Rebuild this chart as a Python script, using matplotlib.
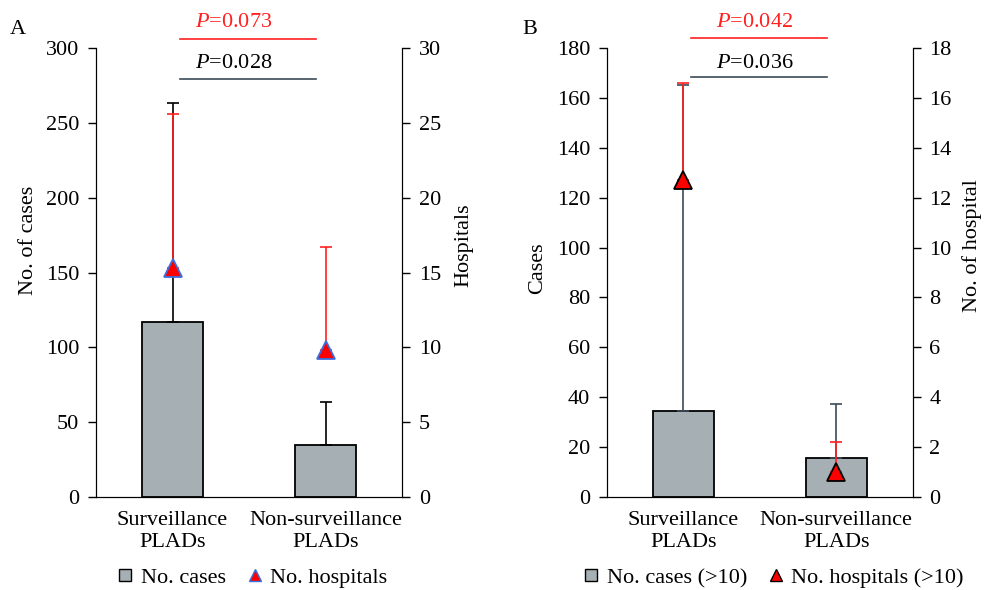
import matplotlib
matplotlib.use("Agg")
import matplotlib.pyplot as plt
from matplotlib.lines import Line2D
import numpy as np

plt.rcParams['font.family'] = ['Liberation Serif', 'DejaVu Serif']
plt.rcParams['mathtext.fontset'] = 'custom'
plt.rcParams['mathtext.it'] = 'Liberation Serif:italic'
plt.rcParams['mathtext.rm'] = 'Liberation Serif'

categories = ['Surveillance\nPLADs', 'Non-surveillance\nPLADs']

# panel A
cases_a = [117, 34.5]
cases_a_err = [146.5, 29]
hosp_a = [15.3, 9.8]
hosp_a_err = [10.3, 6.9]
p_a = ['0.073', '0.028']

# panel B (>10)
cases_b = [34.5, 15.8]
cases_b_err = [130.5, 21.6]
hosp_b = [12.7, 1.0]
hosp_b_err = [3.9, 1.2]
p_b = ['0.042', '0.036']

bar_col = '#A6AFB3'
red = '#FF2020'
slate = '#3B4C5A'

fig = plt.figure(figsize=(9.84, 5.9), dpi=100)


def panel(rect, cases, cases_err, hosp, hosp_err, ymax, ystep, hmax, hstep,
          ylab, hlab, tri_edge, err_col, pvals, p_ys, p_x, letter, letter_x,
          leg_labels, leg_x, ylab_pos, hlab_pos):
    ax = fig.add_axes(rect)
    x = np.arange(len(categories))
    ax.bar(x, cases, width=0.4, color=bar_col, edgecolor='black', linewidth=1.3, zorder=2)
    ax.errorbar(x, cases, yerr=[np.zeros(len(cases)), cases_err], fmt='none',
                ecolor=err_col, elinewidth=1.2, capsize=4, capthick=1.2, zorder=3)
    ax.set_xlim(-0.5, 1.5)
    ax.set_ylim(0, ymax)
    ax.set_yticks(np.arange(0, ymax + 1, ystep))
    ax.set_xticks(x)
    ax.set_xticklabels(categories)
    ax.tick_params(axis='x', length=0, pad=10, labelsize=16)
    ax.tick_params(axis='y', length=6, width=1, pad=6, labelsize=16)
    ax.spines['top'].set_visible(False)
    ax.set_ylabel(ylab, fontsize=16)
    ax.yaxis.set_label_coords(*ylab_pos)

    ax2 = ax.twinx()
    ax2.errorbar(x, hosp, yerr=[np.zeros(len(hosp)), hosp_err], fmt='none',
                 ecolor=red, elinewidth=1.2, capsize=4, capthick=1.2, zorder=3)
    ax2.plot(x, hosp, linestyle='none', marker='^', markersize=13,
             markerfacecolor='#FF0000', markeredgecolor=tri_edge, markeredgewidth=1.3, zorder=4)
    ax2.set_ylim(0, hmax)
    ax2.set_yticks(np.arange(0, hmax + 1, hstep))
    ax2.tick_params(axis='y', length=6, width=1, pad=6, labelsize=16)
    ax2.spines['top'].set_visible(False)
    ax2.set_ylabel(hlab, fontsize=16)
    ax2.yaxis.set_label_coords(*hlab_pos)

    # p-value brackets above the plot
    cols = [red, 'black']
    lcols = [red, slate]
    for pv, (ly, ty), c, lc in zip(pvals, p_ys, cols, lcols):
        ax.plot([0.05, 0.94], [ly, ly], color=lc, linewidth=1.2, clip_on=False)
        ax.text(p_x, ty, r'$\it{P}$=' + pv, color=c, fontsize=16,
                ha='center', va='bottom', clip_on=False)

    fig.text(letter_x, 1 - 30 / 590, letter, fontsize=16, ha='left', va='center')

    handles = [
        Line2D([], [], linestyle='none', marker='s', markersize=8,
               markerfacecolor=bar_col, markeredgecolor='black', markeredgewidth=1),
        Line2D([], [], linestyle='none', marker='^', markersize=8,
               markerfacecolor='#FF0000', markeredgecolor=tri_edge, markeredgewidth=1),
    ]
    fig.legend(handles, leg_labels, loc='center', bbox_to_anchor=(leg_x, 1 - 578 / 590),
               ncol=2, frameon=False, fontsize=16, handlelength=0.8,
               handletextpad=0.3, columnspacing=0.9, borderpad=0)
    return ax, ax2


panel([96 / 984, 1 - 497 / 590, 306 / 984, 449 / 590], cases_a, cases_a_err, hosp_a, hosp_a_err,
      300, 50, 30, 5, 'No. of cases', 'Hospitals', '#3B6FE0', 'black',
      p_a, [(306, 310.5), (279.4, 283.6)], 0.40, 'A', 10 / 984,
      ['No. cases', 'No. hospitals'], 252 / 984, (-0.19, 0.572), (1.17, 0.561))

panel([606.7 / 984, 1 - 497 / 590, 306 / 984, 449 / 590], cases_b, cases_b_err, hosp_b, hosp_b_err,
      180, 20, 18, 2, 'Cases', 'No. of hospital', 'black', slate,
      p_b, [(184.2, 186.4), (168.3, 170.1)], 0.466, 'B', 522 / 984,
      ['No. cases (>10)', 'No. hospitals (>10)'], 773 / 984, (-0.194, 0.51), (1.16, 0.561))

fig.savefig('out.png', dpi=100)
